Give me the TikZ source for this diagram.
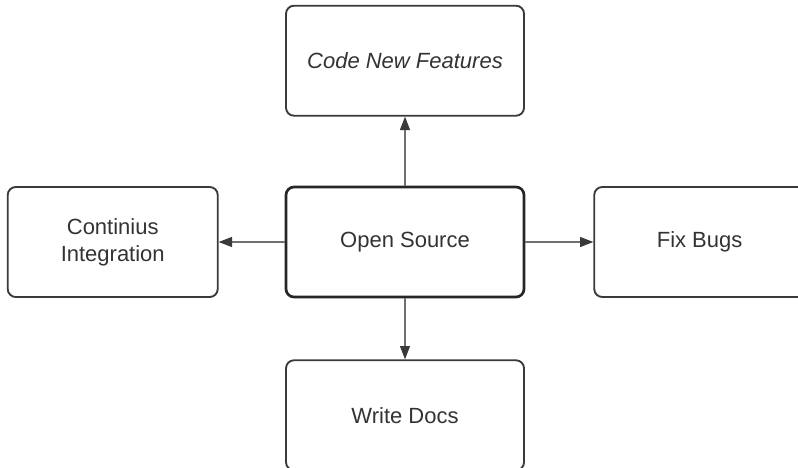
\documentclass[tikz,border=0pt]{standalone}
\usepackage{fontspec}
\setmainfont{Liberation Sans}
\usetikzlibrary{shapes.geometric, arrows.meta, positioning}

\definecolor{boxline}{HTML}{3A3A3A}
\definecolor{linkline}{HTML}{707070}
\definecolor{labeltext}{HTML}{333333}

\begin{document}
\begin{tikzpicture}
        \tikzstyle{task} = [rectangle, rounded corners=6pt, draw=boxline, line width=1.4pt, text=labeltext, align=center, font=\fontsize{16.5}{20}\selectfont, minimum height=82.5pt, minimum width=178.5pt]
        \tikzstyle{flow} = [-{Triangle[length=10pt, width=7.5pt, color=boxline]}, draw=linkline, line width=0.8pt]

        \useasboundingbox (0,0) rectangle (598.5pt,-350.25pt);

        \node (opensource) [task, line width=2pt, draw=black!85] at (303.75pt,-181.5pt) {Open Source};

        \node (features) [task, above=51.75pt of opensource] {\itshape Code New Features};

        \node (integration) [task, minimum width=157.5pt, left=49.5pt of opensource] {Continius\\Integration};

        % runs off the right edge
        \node (bugs) [task, minimum width=166pt, right=49.5pt of opensource, xshift=1.5pt] {\hspace*{-8pt}Fix Bugs};

        \node (docs) [task, below=45.75pt of opensource] {Write Docs};

        \draw [flow] (opensource) -- (features);
        \draw [flow] (opensource) -- (integration);
        \draw [flow] (opensource) -- (bugs);
        \draw [flow] (opensource) -- (docs);
    \end{tikzpicture}
\end{document}
